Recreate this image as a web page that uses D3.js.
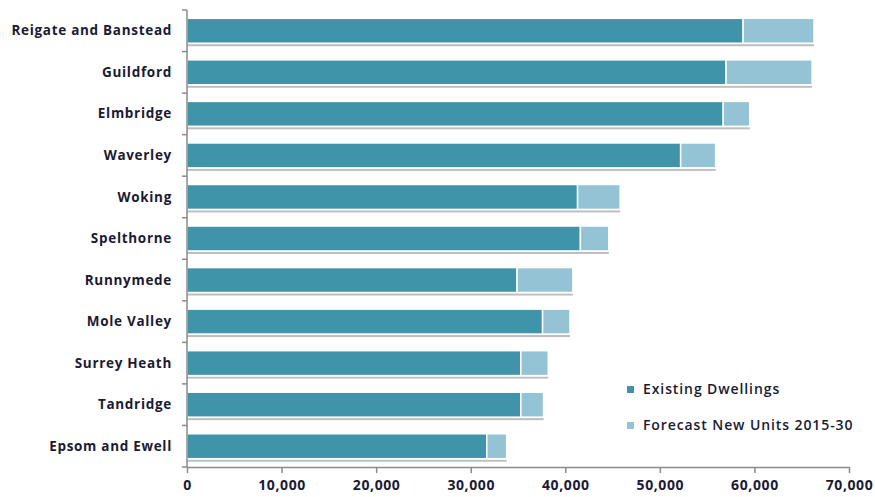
<!DOCTYPE html>
<html><head><meta charset="utf-8">
<script src="https://cdn.jsdelivr.net/npm/d3@7"></script>
<style>body{margin:0;background:#fff;} svg{display:block;}</style>
</head><body>
<svg id="chart" width="875" height="497"></svg>
<script>
const categories = ["Reigate and Banstead","Guildford","Elmbridge","Waverley","Woking","Spelthorne","Runnymede","Mole Valley","Surrey Heath","Tandridge","Epsom and Ewell"];
const existing = [58800,57000,56700,52200,41300,41600,34900,37600,35300,35300,31700];
const forecast = [7500,9100,2800,3700,4500,3000,5900,2900,2900,2400,2100];
const seriesNames = ["Existing Dwellings","Forecast New Units 2015-30"];
const xTicks = [0,10000,20000,30000,40000,50000,60000,70000];
const colors = ["#3f94aa","#93c3d5"];

(function(){
const svg = d3.select("#chart");
const font = "'Open Sans', sans-serif";
const mLeft = 187, mRight = 849, mTop = 10, mBottom = 467;
const x = d3.scaleLinear().domain([0,70000]).range([mLeft,mRight]);
const y = d3.scaleBand().domain(categories).range([mTop,mBottom]).paddingInner(0.4).paddingOuter(0.2);
const yb = d3.scaleBand().domain(categories).range([mTop,mBottom]);

const data = categories.map((c,i)=>({cat:c, vals:[existing[i],forecast[i]]}));
const stacked = d3.stack().keys([0,1]).value((d,k)=>d.vals[k])(data);

svg.append("g").selectAll("rect").data(data).join("rect")
  .attr("x", x(0)).attr("y", d=>y(d.cat)+y.bandwidth()+1)
  .attr("width", d=>x(d.vals[0]+d.vals[1])-x(0)).attr("height",2)
  .attr("fill","#bdbdbd");

stacked.forEach((s,k)=>{
  svg.append("g").selectAll("rect").data(s).join("rect")
    .attr("x", d=>x(d[0])).attr("y", d=>y(d.data.cat))
    .attr("width", d=>x(d[1])-x(d[0])).attr("height", y.bandwidth())
    .attr("fill", colors[k]).attr("stroke","#fff").attr("stroke-width",1.5);
});

const yAxis = svg.append("g").attr("transform",`translate(${mLeft},0)`);
yAxis.append("line").attr("x1",0).attr("x2",0).attr("y1",mTop).attr("y2",mBottom).attr("stroke","#8a8a8a").attr("stroke-width",1.5);
yAxis.selectAll("line.t").data(categories.concat(["_end"])).join("line").attr("class","t")
  .attr("x1",-5).attr("x2",0)
  .attr("y1",(d,i)=> i<categories.length ? yb(d) : mBottom)
  .attr("y2",(d,i)=> i<categories.length ? yb(d) : mBottom)
  .attr("stroke","#8a8a8a").attr("stroke-width",1.5);
yAxis.selectAll("text").data(categories).join("text")
  .attr("x",-15).attr("y",d=>yb(d)+yb.bandwidth()/2+1)
  .attr("text-anchor","end").attr("dominant-baseline","middle")
  .attr("font-family",font).attr("font-weight","bold").attr("font-size","13.5px")
  .attr("letter-spacing","0.7px")
  .attr("fill","#1a1a33").text(d=>d);

const xAxis = svg.append("g").attr("transform",`translate(0,${mBottom})`)
  .call(d3.axisBottom(x).tickValues(xTicks).tickSize(6).tickSizeOuter(0).tickFormat(d3.format(",")));
xAxis.select(".domain").attr("stroke","#8a8a8a").attr("stroke-width",1.5);
xAxis.selectAll(".tick line").attr("stroke","#8a8a8a").attr("stroke-width",1.5);
xAxis.selectAll(".tick text").attr("font-family",font).attr("font-weight","bold")
  .attr("font-size","14px").attr("letter-spacing","0.6px").attr("fill","#1a1a33").attr("dy","1.0em");

const lg = svg.append("g");
seriesNames.forEach((n,i)=>{
  const ly = 389 + i*36;
  lg.append("rect").attr("x",627).attr("y",ly-3).attr("width",7).attr("height",7).attr("fill",colors[i]);
  lg.append("text").attr("x",643).attr("y",ly+1).attr("dominant-baseline","middle")
    .attr("font-family",font).attr("font-weight","600").attr("font-size","14px").attr("letter-spacing","0.9px")
    .attr("fill","#1a1a33").text(n);
});
})();
</script>
</body></html>
